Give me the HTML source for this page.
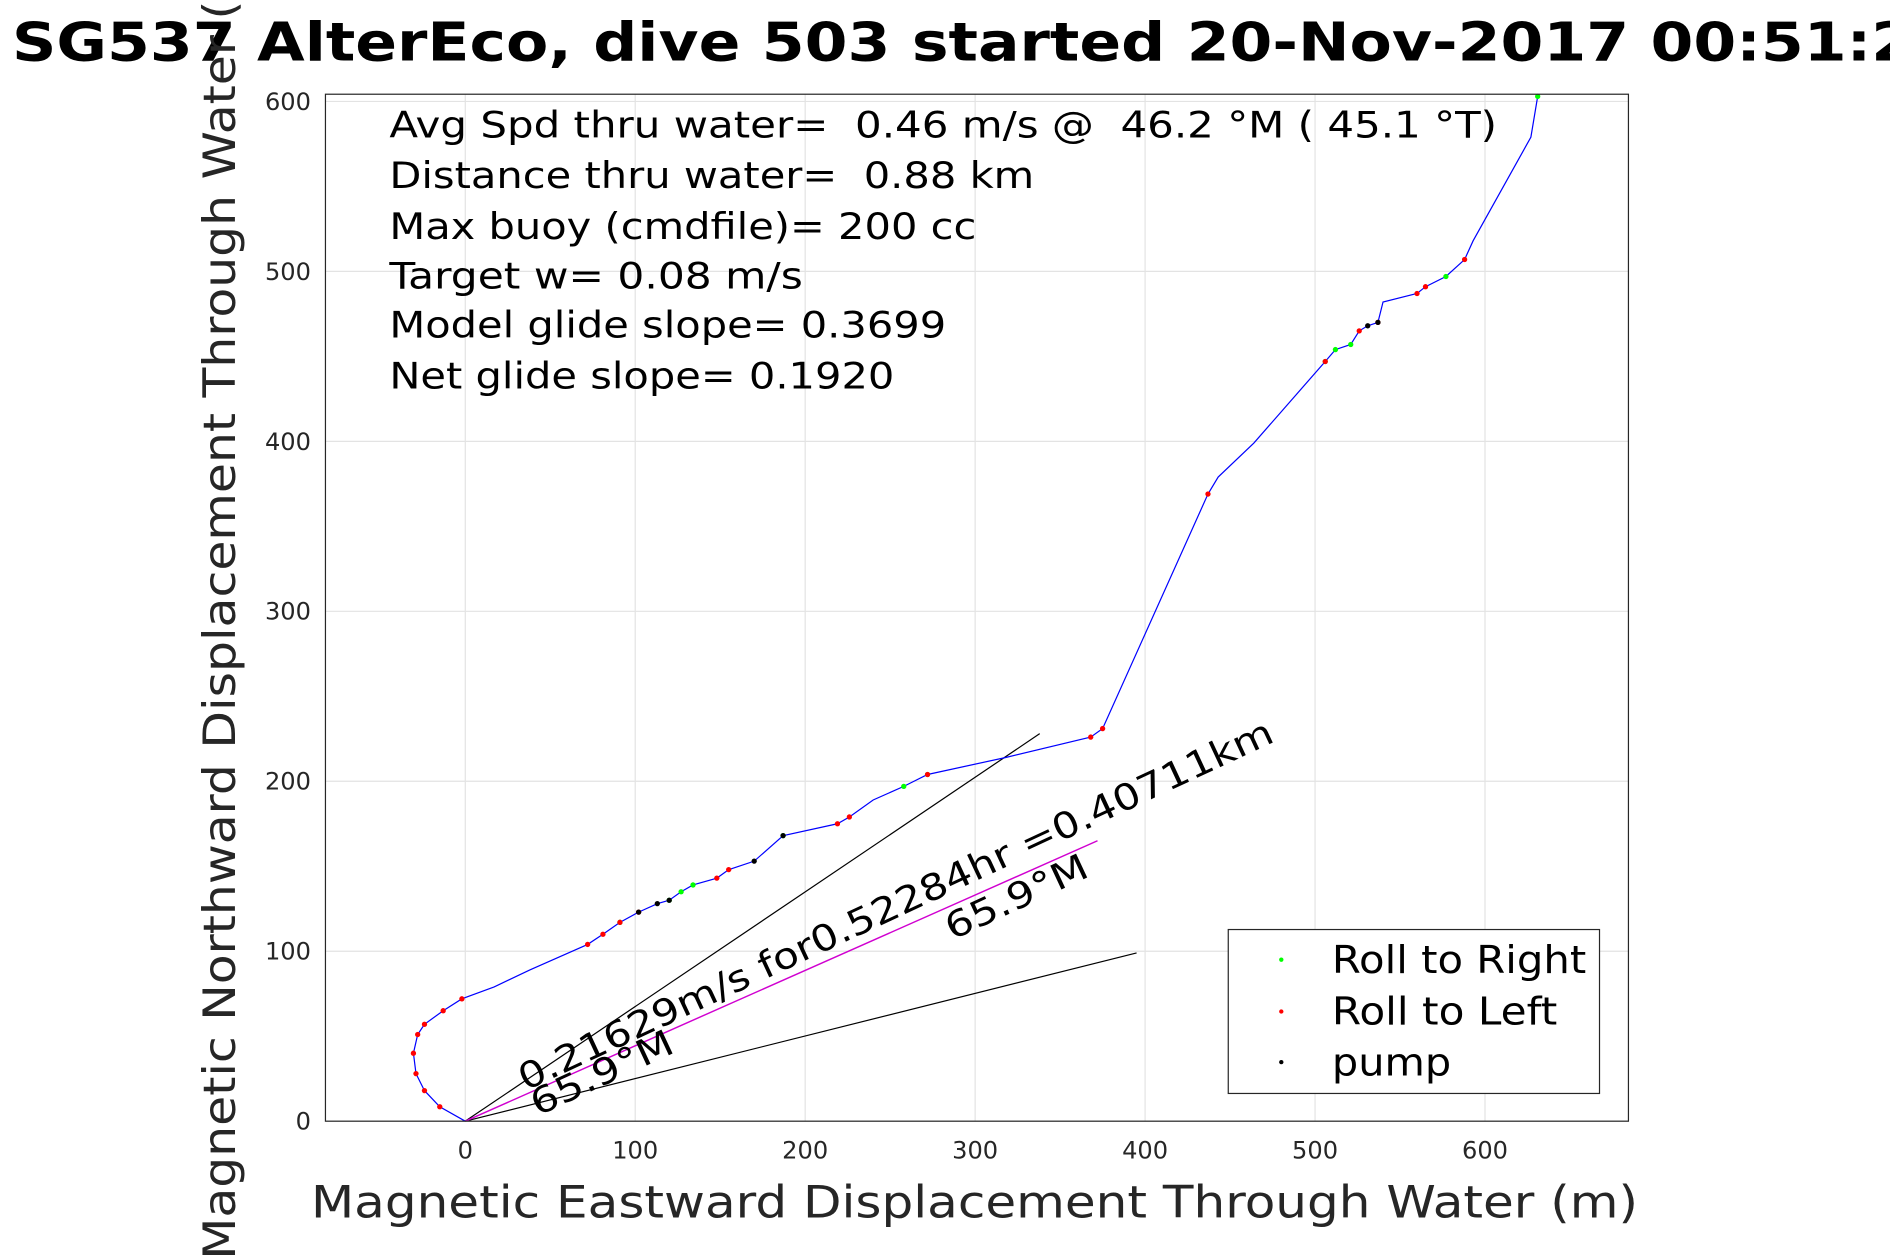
<!DOCTYPE html>
<html><head><meta charset="utf-8"><style>
html,body{margin:0;padding:0;background:#fff;overflow:hidden}
svg{display:block;font-family:"DejaVu Sans","Liberation Sans",sans-serif}
text{white-space:pre}
</style></head><body>
<svg id="chart" width="1890" height="1260" viewBox="0 0 1568 1045" xmlns="http://www.w3.org/2000/svg" xml:space="preserve">
<rect width="1568" height="1045" fill="#fff"/>
<g id="grid"></g>
<g id="ticks"></g>
<g id="marks"></g>
<rect x="270" y="78" width="1081" height="852" fill="none" stroke="#262626" stroke-width="1"/>
<text x="10" y="50" font-size="44" font-weight="bold" fill="#000" textLength="1578" lengthAdjust="spacingAndGlyphs">SG537 AlterEco, dive 503 started 20-Nov-2017 00:51:2</text>
<text x="258" y="1010" font-size="37" fill="#262626" textLength="1101" lengthAdjust="spacingAndGlyphs">Magnetic Eastward Displacement Through Water (m)</text>
<text transform="translate(195,1045) rotate(-90)" font-size="37" fill="#262626" textLength="1100" lengthAdjust="spacingAndGlyphs">Magnetic Northward Displacement Through Water (m)</text>
<g font-size="30" fill="#000">
<text x="323" y="114" textLength="919" lengthAdjust="spacingAndGlyphs">Avg Spd thru water=  0.46 m/s @  46.2 °M ( 45.1 °T)</text>
<text x="323" y="156" textLength="535" lengthAdjust="spacingAndGlyphs">Distance thru water=  0.88 km</text>
<text x="323" y="198" textLength="487" lengthAdjust="spacingAndGlyphs">Max buoy (cmdfile)= 200 cc</text>
<text x="323" y="239" textLength="343" lengthAdjust="spacingAndGlyphs">Target w= 0.08 m/s</text>
<text x="323" y="280" textLength="462" lengthAdjust="spacingAndGlyphs">Model glide slope= 0.3699</text>
<text x="323" y="322" textLength="419" lengthAdjust="spacingAndGlyphs">Net glide slope= 0.1920</text>
</g>
<g>
<rect x="1019" y="771" width="308" height="136" fill="#fff" stroke="#262626" stroke-width="1"/>
<circle cx="1063" cy="796" r="1.8" fill="#00ff00"/>
<text x="1105" y="807" font-size="32" fill="#000" textLength="211" lengthAdjust="spacingAndGlyphs">Roll to Right</text>
<circle cx="1063" cy="839" r="1.8" fill="#ff0000"/>
<text x="1105" y="850" font-size="32" fill="#000" textLength="187" lengthAdjust="spacingAndGlyphs">Roll to Left</text>
<circle cx="1063" cy="881" r="1.8" fill="#000"/>
<text x="1105" y="892" font-size="32" fill="#000" textLength="99" lengthAdjust="spacingAndGlyphs">pump</text>
</g>
<script>
const trackX=[0,-15,-24,-29,-30.5,-28,-24,-13,-2,17,38,72,81,91,102,113,120,127,134,148,155,170,187,219,226,240,258,272,318,368,375,437,443,464,506,512,521,526,531,537,540,560,565,577,588,593,627,631];
const trackY=[0,8.5,18,28,40,51,57,65,72,79,89,104,110,117,123,128,130,135,139,143,148,153,168,175,179,189,197,204,214,226,231,369,379,399,447,454,457,465,468,470,482,487,491,497,507,518,579,603];
const rightIdx=[13,16,17,18,22,26,27,34,35,36,43,47];
const leftIdx=[1,2,3,4,5,6,7,8,11,12,13,14,19,20,23,24,27,29,30,31,34,37,39,41,42,44];
const pumpIdx=[14,15,16,21,22,38,39];
const xTicks=[0,100,200,300,400,500,600];
const yTicks=[0,100,200,300,400,500,600];
const refEnd1=[338,228], refEnd2=[395,99], netEnd=[372,165];
const X=v=>386+v*1.41, Y=v=>930-v*1.41;
const NS='http://www.w3.org/2000/svg';
function mk(t,a,p){const e=document.createElementNS(NS,t);for(const k in a)e.setAttribute(k,a[k]);p.appendChild(e);return e;}
const grid=document.getElementById('grid'),ticks=document.getElementById('ticks'),marks=document.getElementById('marks');
xTicks.forEach(v=>{
 const l=mk('line',{x1:X(v),x2:X(v),y1:78,y2:930,stroke:'#e3e3e3','stroke-width':1},grid);
 
 
 const t=mk('text',{x:X(v),y:961,'font-size':20,fill:'#262626','text-anchor':'middle'},ticks);t.textContent=v;
 
 
});
yTicks.forEach(v=>{
 const l=mk('line',{x1:270,x2:1351,y1:Y(v),y2:Y(v),stroke:'#e3e3e3','stroke-width':1},grid);
 
 
 const t=mk('text',{x:258,y:Y(v)+7,'font-size':20,fill:'#262626','text-anchor':'end'},ticks);t.textContent=v;
 
 
});
const r1=mk('line',{x1:X(0),y1:Y(0),x2:X(refEnd1[0]),y2:Y(refEnd1[1]),stroke:'#000','stroke-width':1},marks);


const r2=mk('line',{x1:X(0),y1:Y(0),x2:X(refEnd2[0]),y2:Y(refEnd2[1]),stroke:'#000','stroke-width':1},marks);


const nl=mk('line',{x1:X(0),y1:Y(0),x2:X(netEnd[0]),y2:Y(netEnd[1]),stroke:'#d000d0','stroke-width':1.2},marks);


const tr=mk('polyline',{points:trackX.map((x,i)=>X(x)+','+Y(trackY[i])).join(' '),fill:'none',stroke:'#0000ff','stroke-width':1},marks);


function dots(idx,c,n){idx.forEach(i=>{const d=mk('circle',{cx:X(trackX[i]),cy:Y(trackY[i]),r:2.2,fill:c},marks);
 
 });}
dots(rightIdx,'#00ff00','roll-right-point');dots(leftIdx,'#ff0000','roll-left-point');dots(pumpIdx,'#000','pump-point');
const a1=mk('text',{transform:'translate(436,905) rotate(-25)','font-size':30,fill:'#000',textLength:687,lengthAdjust:'spacingAndGlyphs'},marks);a1.textContent='0.21629m/s for0.52284hr =0.40711km';


const a2=mk('text',{transform:'translate(446,926) rotate(-25)','font-size':30,fill:'#000',textLength:127,lengthAdjust:'spacingAndGlyphs'},marks);a2.textContent='65.9°M';


const a3=mk('text',{transform:'translate(790,780) rotate(-25)','font-size':30,fill:'#000',textLength:127,lengthAdjust:'spacingAndGlyphs'},marks);a3.textContent='65.9°M';


</script>
</svg>
</body></html>
